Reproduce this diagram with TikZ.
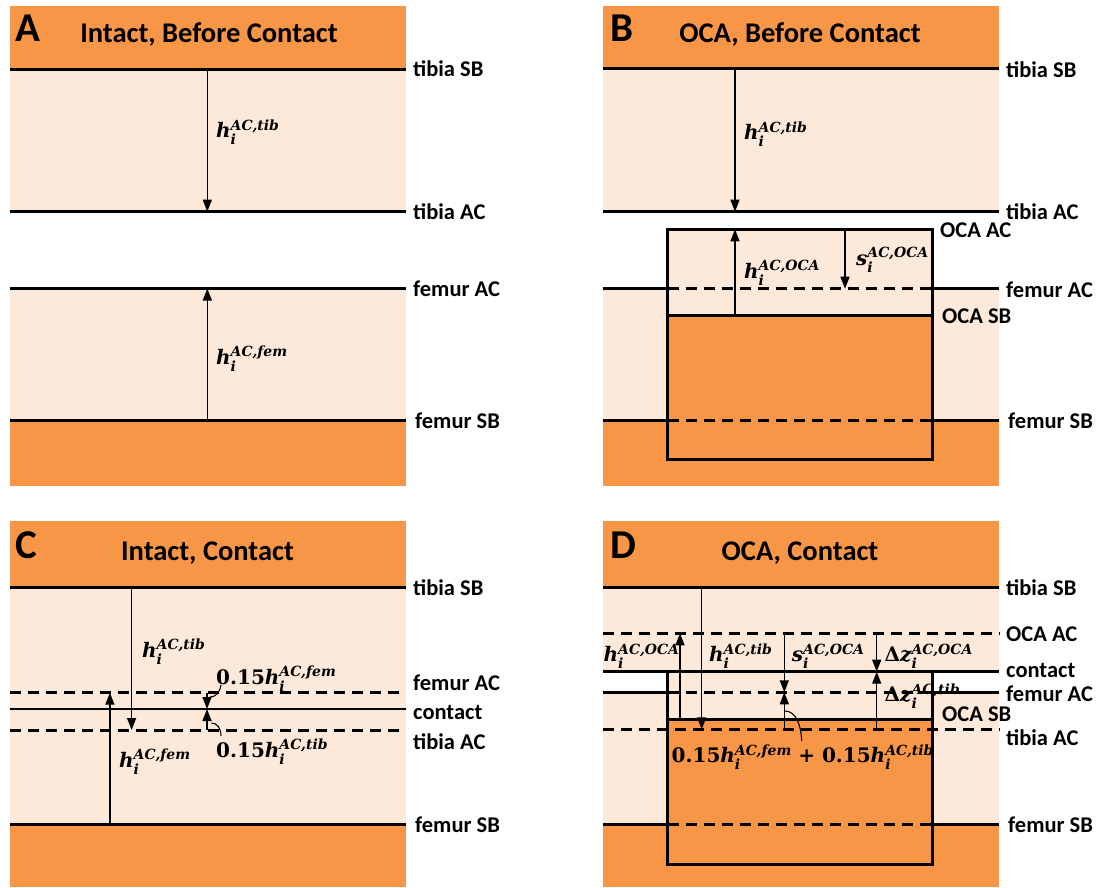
\documentclass[tikz,border=0pt]{standalone}
\usepackage{fontspec}
\setmainfont{Carlito}
\newfontfamily\mfont{DejaVu Serif}
\newcommand\hsy[3]{{\itshape #1}\rlap{\raisebox{-7pt}{\fontsize{14}{14}\selectfont\itshape #2}}\raisebox{7.5pt}{\fontsize{14}{14}\selectfont\itshape #3}}
\usetikzlibrary{arrows.meta}
\definecolor{bone}{HTML}{F79646}
\definecolor{cart}{HTML}{FDE9D9}
\begin{document}
\begin{tikzpicture}[x=1pt,y=-1pt,
  sbline/.style={line width=3pt},
  dline/.style={line width=3pt,dash pattern=on 11pt off 7pt},
  cline/.style={line width=2.2pt},
  arr/.style={line width=1.4pt,-{Triangle[length=12pt,width=9pt]}},
  ptr/.style={line width=1.1pt},
  lab/.style={font=\bfseries\fontsize{22.5}{24}\selectfont,anchor=base west,inner sep=0pt},
  ttl/.style={font=\bfseries\fontsize{28.5}{30}\selectfont,anchor=base,inner sep=0pt},
  pl/.style={font=\bfseries\fontsize{41}{44}\selectfont,anchor=base west,inner sep=0pt},
  mth/.style={font=\mfont\bfseries\fontsize{20}{22}\selectfont,anchor=base west,inner sep=0pt}]
\useasboundingbox (0,0) rectangle (1098,888);

%%%%%%%%%%%%%%%% Panel A
\fill[bone] (10,6) rectangle (405.7,69.3);
\fill[cart] (10,69.3) rectangle (405.7,211.7);
\fill[cart] (10,288.5) rectangle (405.7,420.7);
\fill[bone] (10,420.7) rectangle (405.7,486);
\draw[sbline] (10,69.3) -- (405.7,69.3);
\draw[sbline] (10,211.7) -- (405.7,211.7);
\draw[sbline] (10,288.5) -- (405.7,288.5);
\draw[sbline] (10,420.7) -- (405.7,420.7);
\coordinate (Atsb) at (207.3,69.3);
\coordinate (Atac) at (207.3,211.7);
\coordinate (Afac) at (207.3,288.5);
\coordinate (Afsb) at (207.3,420.7);
\draw[arr] (Atsb) -- (Atac);
\draw[arr] (Afsb) -- (Afac);
\node[pl] (Aletter) at (15,42) {A};
\node[ttl] (Atitle) at (209,43) {Intact, Before Contact};
\node[mth] (Ahtib) at (216,138) {\hsy{h}{i}{AC,tib}};
\node[mth] (Ahfem) at (216,364) {\hsy{h}{i}{AC,fem}};
\node[lab] (Al1) at (413,76.5) {tibia SB};
\node[lab] (Al2) at (413,219) {tibia AC};
\node[lab] (Al3) at (413,296) {femur AC};
\node[lab] (Al4) at (415,428) {femur SB};

%%%%%%%%%%%%%%%% Panel B
\fill[bone] (602.7,6) rectangle (999,69);
\fill[cart] (602.7,69) rectangle (999,211.7);
\fill[cart] (602.7,288.7) rectangle (999,420);
\fill[bone] (602.7,420) rectangle (999,486);
\fill[cart] (667.7,229.3) rectangle (932.3,315.7);
\fill[bone] (667.7,315.7) rectangle (932.3,459.3);
\draw[sbline] (602.7,69) -- (999,69);
\draw[sbline] (602.7,211.7) -- (999,211.7);
\draw[sbline] (602.7,288.7) -- (667.7,288.7);
\draw[sbline] (932.3,288.7) -- (999,288.7);
\draw[dline] (667.7,288.7) -- (932.3,288.7);
\draw[sbline] (602.7,420) -- (667.7,420);
\draw[sbline] (932.3,420) -- (999,420);
\draw[dline] (667.7,420) -- (932.3,420);
\draw[sbline] (667.7,315.7) -- (932.3,315.7);
\draw[sbline] (667.7,229.3) rectangle (932.3,459.3);
\coordinate (Btsb) at (735,69);
\coordinate (Btac) at (735,211.7);
\coordinate (Bosb) at (735,315.7);
\coordinate (Boac) at (735,229.3);
\coordinate (Bsa) at (845,229.3);
\coordinate (Bsb) at (845,288.7);
\draw[arr] (Btsb) -- (Btac);
\draw[arr] (Bosb) -- (Boac);
\draw[arr] (Bsa) -- (Bsb);
\node[pl] (Bletter) at (610,42) {B};
\node[ttl] (Btitle) at (800,43) {OCA, Before Contact};
\node[mth] (Bhtib) at (744,140) {\hsy{h}{i}{AC,tib}};
\node[mth] (Bhoca) at (744,278) {\hsy{h}{i}{AC,OCA}};
\node[mth] (Bsoca) at (856,265) {\hsy{s}{i}{AC,OCA}};
\node[lab] (Bl1) at (1006,77.5) {tibia SB};
\node[lab] (Bl2) at (1006,219.5) {tibia AC};
\node[lab] (Bl3) at (940,237) {OCA AC};
\node[lab] (Bl4) at (1006,297) {femur AC};
\node[lab] (Bl5) at (942,323) {OCA SB};
\node[lab] (Bl6) at (1008,428) {femur SB};

%%%%%%%%%%%%%%%% Panel C
\fill[bone] (10,521) rectangle (405.7,587.3);
\fill[cart] (10,587.3) rectangle (405.7,824);
\fill[bone] (10,824) rectangle (405.7,887);
\draw[sbline] (10,587.3) -- (405.7,587.3);
\draw[dline] (10,692.7) -- (405.7,692.7);
\draw[cline] (10,709) -- (405.7,709);
\draw[dline] (10,730) -- (405.7,730);
\draw[sbline] (10,824) -- (405.7,824);
\coordinate (Ctsb) at (131.6,587.3);
\coordinate (Ctac) at (131.6,730);
\coordinate (Cfsb) at (109.9,824);
\coordinate (Cfac) at (109.9,692.7);
\coordinate (Cq1) at (207,692.7);
\coordinate (Cq2) at (207,709);
\coordinate (Cq3) at (207,730);
\draw[arr] (Ctsb) -- (Ctac);
\draw[arr] (Cfsb) -- (Cfac);
\draw[arr] (Cq1) -- (Cq2);
\draw[arr] (Cq3) -- (Cq2);
\coordinate (Cp1) at (221,685);
\coordinate (Cp2) at (210,697);
\coordinate (Cp3) at (211.5,723);
\coordinate (Cp4) at (221,736);
\draw[ptr] (Cp1) .. controls (220,692) and (216,697) .. (Cp2);
\draw[ptr] (Cp3) .. controls (217,723) and (221,728) .. (Cp4);
\node[pl] (Cletter) at (15.5,558) {C};
\node[ttl] (Ctitle) at (207.5,560) {Intact, Contact};
\node[mth] (Chtib) at (142,657) {\hsy{h}{i}{AC,tib}};
\node[mth] (Cqfem) at (216,684) {0.15\hsy{h}{i}{AC,fem}};
\node[mth] (Cqtib) at (216,757) {0.15\hsy{h}{i}{AC,tib}};
\node[mth] (Chfem) at (119,767) {\hsy{h}{i}{AC,fem}};
\node[lab] (Cl1) at (413,595) {tibia SB};
\node[lab] (Cl2) at (413,690) {femur AC};
\node[lab] (Cl3) at (413,719) {contact};
\node[lab] (Cl4) at (413,749) {tibia AC};
\node[lab] (Cl5) at (415,832) {femur SB};

%%%%%%%%%%%%%%%% Panel D
\fill[bone] (602.7,521) rectangle (999,587.3);
\fill[cart] (602.7,587.3) rectangle (999,671.7);
\fill[cart] (602.7,692.3) rectangle (999,824);
\fill[bone] (602.7,824) rectangle (999,887);
\fill[cart] (667.7,671.7) rectangle (932.3,719);
\fill[bone] (667.7,719) rectangle (932.3,864);
\draw[sbline] (602.7,587.3) -- (999,587.3);
\draw[dline] (602.7,633.3) -- (999,633.3);
\draw[sbline] (602.7,671.7) -- (999,671.7);
\draw[sbline] (602.7,692.3) -- (667.7,692.3);
\draw[sbline] (932.3,692.3) -- (999,692.3);
\draw[dline] (667.7,692.3) -- (932.3,692.3);
\draw[sbline] (667.7,719) -- (932.3,719);
\draw[dline] (602.7,729.3) -- (999,729.3);
\draw[sbline] (602.7,824) -- (667.7,824);
\draw[sbline] (932.3,824) -- (999,824);
\draw[dline] (667.7,824) -- (932.3,824);
\draw[sbline] (667.7,671.7) -- (667.7,864) -- (932.3,864) -- (932.3,671.7);
\coordinate (Dosb) at (680,719);
\coordinate (Doac) at (680,633.3);
\coordinate (Dtsb) at (701.7,587.3);
\coordinate (Dtac) at (701.7,729.3);
\coordinate (Ds1) at (784.3,633.3);
\coordinate (Ds2) at (784.3,692.3);
\coordinate (Ds3) at (784.3,729.3);
\coordinate (Dz1) at (876.7,633.3);
\coordinate (Dz2) at (876.7,671.7);
\coordinate (Dz3) at (876.7,729.3);
\draw[arr] (Dosb) -- (Doac);
\draw[arr] (Dtsb) -- (Dtac);
\draw[arr] (Ds1) -- (Ds2);
\draw[arr] (Ds3) -- (Ds2);
\draw[arr] (Dz1) -- (Dz2);
\draw[arr] (Dz3) -- (Dz2);
\coordinate (Dp1) at (785,711);
\coordinate (Dp2) at (801.7,741);
\draw[ptr] (Dp1) .. controls (796,711) and (801,725) .. (Dp2);
\node[pl] (Dletter) at (610,558) {D};
\node[ttl] (Dtitle) at (800,560) {OCA, Contact};
\node[mth] (Dhoca) at (603.5,661.7) {\hsy{h}{i}{AC,OCA}};
\node[mth] (Dhtib) at (709,661.7) {\hsy{h}{i}{AC,tib}};
\node[mth] (Dsoca) at (791.7,661.7) {\hsy{s}{i}{AC,OCA}};
\node[mth] (Dzoca) at (884.5,661.7) {Δ\hsy{z}{i}{AC,OCA}};
\node[mth] (Dztib) at (884.5,701.7) {Δ\hsy{z}{i}{AC,tib}};
\node[mth] (Dsum) at (671.5,762.7) {0.15\hsy{h}{i}{AC,fem}\ +\ 0.15\hsy{h}{i}{AC,tib}};
\node[lab] (Dl1) at (1006,595) {tibia SB};
\node[lab] (Dl2) at (1006,641) {OCA AC};
\node[lab] (Dl3) at (1006,677) {contact};
\node[lab] (Dl4) at (1006,701) {femur AC};
\node[lab] (Dl5) at (942,721) {OCA SB};
\node[lab] (Dl6) at (1006,745) {tibia AC};
\node[lab] (Dl7) at (1008,832) {femur SB};
\end{tikzpicture}
\end{document}
